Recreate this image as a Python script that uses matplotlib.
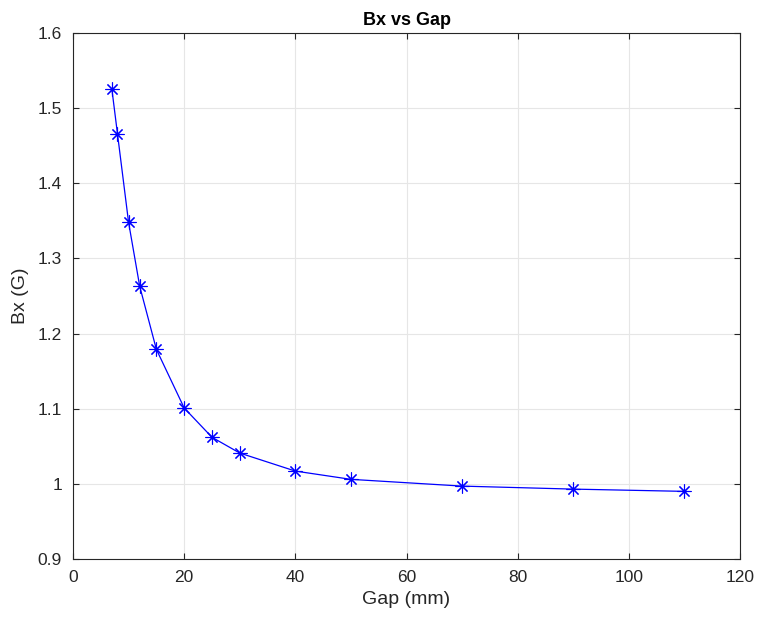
import numpy as np
import matplotlib.pyplot as plt

plt.rcParams['font.family'] = ['Liberation Sans', 'DejaVu Sans']

# Data
gap = np.array([7, 8, 10, 12, 15, 20, 25, 30, 40, 50, 70, 90, 110])
bx = np.array([1.525, 1.466, 1.348, 1.263, 1.179, 1.101, 1.062, 1.041,
               1.017, 1.006, 0.997, 0.993, 0.990])

fig = plt.figure(figsize=(7.58, 6.29), dpi=100)
ax = fig.add_axes([0.0963, 0.1113, 0.88, 0.8362])

ax.plot(gap, bx, '-', color='blue', linewidth=0.9,
        marker=(8, 2, 0), markersize=10, markeredgewidth=0.8)

ax.set_xlim(0, 120)
ax.set_ylim(0.9, 1.6)
ax.set_xticks(np.arange(0, 121, 20))
ax.set_yticks(np.arange(0.9, 1.61, 0.1))
ax.set_yticklabels(['0.9', '1', '1.1', '1.2', '1.3', '1.4', '1.5', '1.6'])

dark = '#262626'
ax.grid(True, color='#e6e6e6', linewidth=0.8)
ax.set_axisbelow(True)
for s in ax.spines.values():
    s.set_color(dark)
    s.set_linewidth(0.8)
ax.tick_params(direction='in', colors=dark, labelsize=12.5, length=4, pad=8,
               top=True, right=True)

ax.set_xlabel('Gap (mm)', fontsize=14, color=dark, labelpad=4)
ax.set_ylabel('Bx (G)', fontsize=14, color=dark, labelpad=6)
ax.set_title('Bx vs Gap', fontsize=13, fontweight='bold', color='black', pad=6)

fig.savefig('out.png', dpi=100)
